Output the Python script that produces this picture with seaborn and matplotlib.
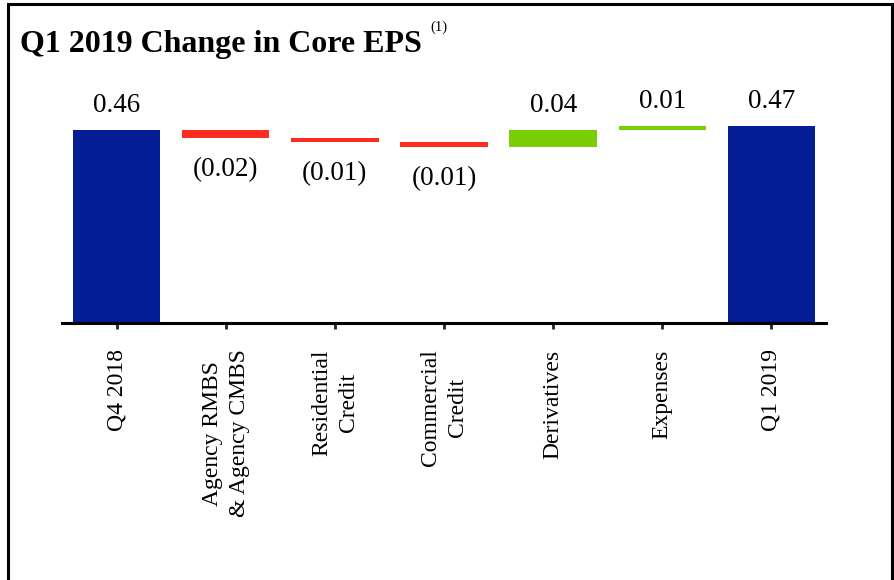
import numpy as np
import pandas as pd
import matplotlib
matplotlib.use("Agg")
import matplotlib.pyplot as plt
from matplotlib.patches import Rectangle
import seaborn as sns

# chart data
categories = ["Q4 2018", "Agency RMBS\n& Agency CMBS", "Residential\nCredit",
              "Commercial\nCredit", "Derivatives", "Expenses", "Q1 2019"]
values = [0.46, -0.02, -0.01, -0.01, 0.04, 0.01, 0.47]
is_total = [True, False, False, False, False, False, True]
value_labels = ["0.46", "(0.02)", "(0.01)", "(0.01)", "0.04", "0.01", "0.47"]

NAVY = "#041C94"
RED = "#FF2D20"
GREEN = "#7ACE05"

# waterfall bottoms / heights
bottoms, heights, colors = [], [], []
running = 0.0
for v, tot in zip(values, is_total):
    if tot:
        bottoms.append(0.0)
        heights.append(v)
        colors.append(NAVY)
        running = v
    else:
        bottoms.append(min(running, running + v))
        heights.append(abs(v))
        colors.append(GREEN if v > 0 else RED)
        running += v

df = pd.DataFrame({"category": categories, "height": heights})

sns.set_style("white")
plt.rcParams["font.family"] = ["Liberation Serif", "DejaVu Serif"]
plt.rcParams["text.color"] = "black"
plt.rcParams["xtick.color"] = "black"

fig = plt.figure(figsize=(8.94, 5.80), dpi=100)
ax = fig.add_axes([62 / 894, 1 - 323 / 580, 764 / 894, 252 / 580])

# single call so the bottom array lines up with the bars
sns.barplot(data=df, x="category", y="height", color=NAVY, bottom=bottoms,
            width=0.8, saturation=1, ax=ax)
for patch, c in zip(ax.patches, colors):
    patch.set_facecolor(c)
    patch.set_edgecolor("none")

ax.set_xlim(-0.5, 6.5)
ax.set_ylim(0, 0.6)
ax.set_xlabel("")
ax.set_ylabel("")
ax.set_yticks([])
for side in ["top", "right", "left"]:
    ax.spines[side].set_visible(False)
ax.spines["bottom"].set_linewidth(2.2)
ax.spines["bottom"].set_color("black")
ax.tick_params(axis="x", bottom=True, length=4, width=2, color="#222222",
               pad=15, labelsize=17, labelrotation=90, labelcolor="black")
for lbl in ax.get_xticklabels():
    lbl.set_va("top")
    lbl.set_ha("center")
    lbl.set_multialignment("center")
    lbl.set_linespacing(1.35)

# value labels
for i, (b, h, v, txt) in enumerate(zip(bottoms, heights, values, value_labels)):
    if v >= 0:
        ax.annotate(txt, (i, b + h), xytext=(0, 13), textcoords="offset points",
                    ha="center", va="baseline", fontsize=19.5, color="black")
    else:
        ax.annotate(txt, (i, b), xytext=(0, -27.5), textcoords="offset points",
                    ha="center", va="baseline", fontsize=19.5, color="black")

# title
fig.text(20 / 894, 1 - 52 / 580, "Q1 2019 Change in Core EPS", fontsize=23,
         fontweight="bold", ha="left", va="baseline", color="black")
fig.text(430 / 894, 1 - 31 / 580, "(1)", fontsize=10.5, ha="left",
         va="baseline", color="black")

# outer frame
fig.patches.append(Rectangle((7.5 / 894, -0.1), (891.5 - 7.5) / 894, 1.1 - 4 / 580,
                             transform=fig.transFigure, fill=False,
                             edgecolor="black", linewidth=2.2, clip_on=False))

fig.savefig("out.png", dpi=100)
